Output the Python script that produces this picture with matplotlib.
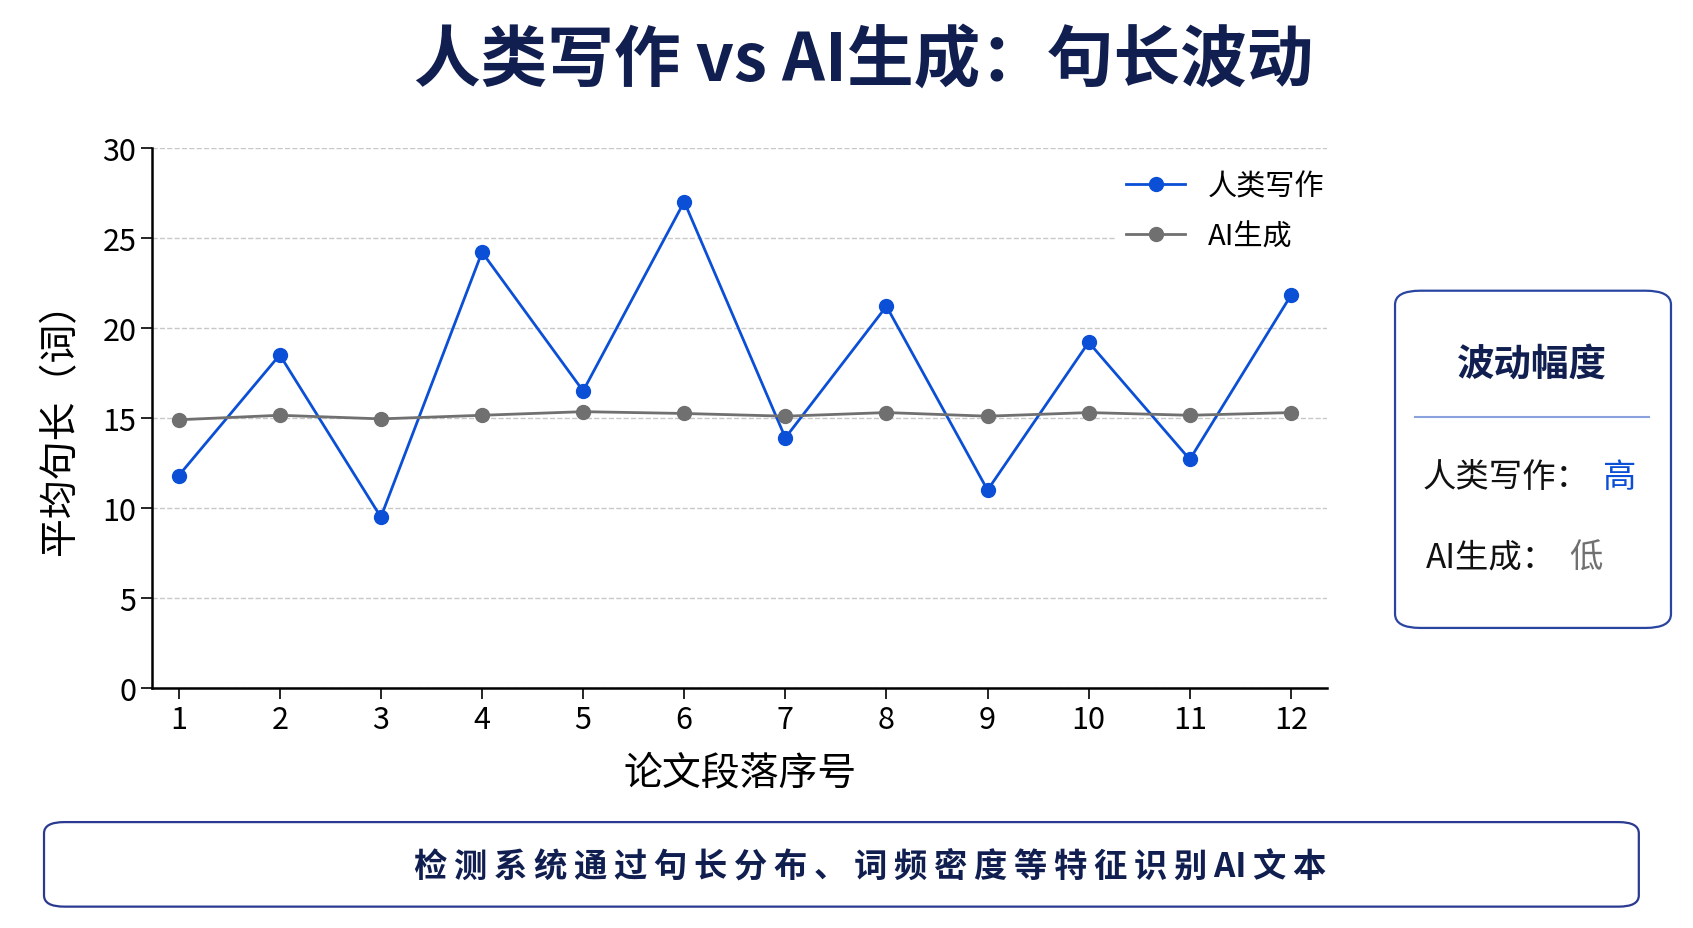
import matplotlib
matplotlib.use('Agg')
import matplotlib.pyplot as plt
from matplotlib.patches import FancyBboxPatch
from matplotlib.lines import Line2D

plt.rcParams['font.family'] = ['Noto Sans CJK SC', 'DejaVu Sans']

# 数据
paragraphs = [1, 2, 3, 4, 5, 6, 7, 8, 9, 10, 11, 12]
human = [11.8, 18.5, 9.5, 24.2, 16.5, 27.0, 13.9, 21.2, 11.0, 19.2, 12.7, 21.8]
ai = [14.9, 15.15, 14.95, 15.15, 15.35, 15.25, 15.1, 15.3, 15.1, 15.3, 15.15, 15.3]
yticks = [0, 5, 10, 15, 20, 25, 30]

blue = '#0a4fd6'
gray = '#707070'
navy = '#101e50'

fig = plt.figure(figsize=(16.93, 9.29), dpi=100)
fig.patch.set_facecolor('white')
ax = fig.add_axes([0.090, 0.258, 0.694, 0.582])

ax.plot(paragraphs, human, color=blue, lw=2, marker='o', ms=10, label='人类写作', zorder=3)
ax.plot(paragraphs, ai, color=gray, lw=2, marker='o', ms=10, label='AI生成', zorder=3)

ax.set_xlim(0.74, 12.36)
ax.set_ylim(0, 30)
ax.set_xticks(paragraphs)
ax.set_yticks(yticks)
ax.tick_params(labelsize=22, length=8, width=1.2)
ax.grid(axis='y', linestyle='--', color='#c8c8c8', lw=1)
ax.set_axisbelow(True)
for s in ['top', 'right']:
    ax.spines[s].set_visible(False)
for s in ['left', 'bottom']:
    ax.spines[s].set_linewidth(1.8)

ax.set_xlabel('论文段落序号', fontsize=28, labelpad=12)
ax.set_ylabel('平均句长（词）', fontsize=28, labelpad=16)

leg = ax.legend(loc='upper right', bbox_to_anchor=(1.02, 1.005), fontsize=21,
                frameon=True, framealpha=1, edgecolor='none', handlelength=2.0,
                labelspacing=0.7)

fig.text(0.51, 0.934, '人类写作 vs AI生成：句长波动', ha='center', va='center',
         fontsize=48, fontweight='bold', color=navy)

# 右侧说明框
box = FancyBboxPatch((0.824, 0.323), 0.163, 0.363, boxstyle='round,pad=0,rounding_size=0.015',
                     transform=fig.transFigure, facecolor='white', edgecolor='#2a45a0', lw=1.6)
fig.patches.append(box)
fig.text(0.905, 0.608, '波动幅度', ha='center', va='center', fontsize=27,
         fontweight='bold', color=navy)
fig.lines.append(Line2D([0.836, 0.974], [0.55, 0.55], transform=fig.transFigure,
                        color='#8aa2de', lw=1.5))
fig.text(0.840, 0.486, '人类写作：', ha='left', va='center', fontsize=24, color='#111111')
fig.text(0.946, 0.486, '高', ha='left', va='center', fontsize=24, color=blue)
fig.text(0.842, 0.399, 'AI生成：', ha='left', va='center', fontsize=24, color='#111111')
fig.text(0.927, 0.399, '低', ha='left', va='center', fontsize=24, color=gray)

# 底部说明框
box2 = FancyBboxPatch((0.026, 0.023), 0.942, 0.091, boxstyle='round,pad=0,rounding_size=0.012',
                      transform=fig.transFigure, facecolor='white', edgecolor='#2a3a90', lw=1.6)
fig.patches.append(box2)
fig.text(0.514, 0.066, '检 测 系 统 通 过 句 长 分 布 、 词 频 密 度 等 特 征 识 别 AI 文 本'.replace(' ', '\u2009'),
         ha='center', va='center', fontsize=24, color=navy, fontweight='bold',
         family=['Noto Sans CJK SC', 'DejaVu Sans'])

fig.savefig('out.png', dpi=100)
